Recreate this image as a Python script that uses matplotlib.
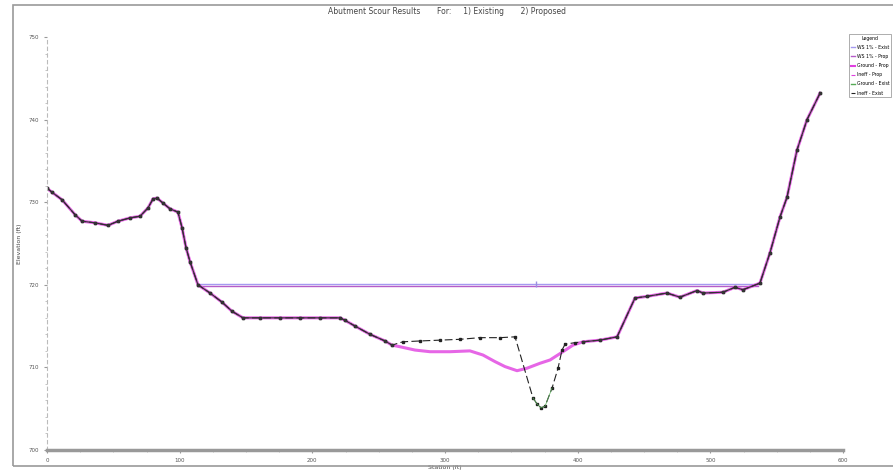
import matplotlib
matplotlib.use("Agg")
import matplotlib.pyplot as plt
from matplotlib.patches import Rectangle
from matplotlib.ticker import AutoMinorLocator
from matplotlib.lines import Line2D

# ground shared by both plans, left bank
left_sta = [0, 3.8, 11.3, 21.1, 26.4, 36.2, 46.0, 53.5, 62.6, 70.1, 76.1, 79.9, 82.9, 87.4,
            92.7, 98.7, 101.8, 104.8, 107.8, 113.8, 122.9, 131.9, 139.4, 147.7, 160.6,
            175.6, 190.7, 205.8, 220.9, 224.6, 232.2, 243.5, 254.8, 260.0]
left_elev = [731.7, 731.2, 730.3, 728.5, 727.7, 727.5, 727.2, 727.7, 728.1, 728.3, 729.3,
             730.4, 730.5, 729.9, 729.2, 728.8, 726.9, 724.5, 722.8, 720.0, 719.0, 717.9,
             716.8, 716.0, 716.0, 716.0, 716.0, 716.0, 716.0, 715.7, 715.0, 714.0, 713.2, 712.7]

# channel, existing (with scour hole)
exist_sta = [268.3, 281.2, 296.2, 311.3, 326.4, 341.5, 352.8, 366.3, 369.3, 372.4, 375.4,
             380.7, 385.2, 388.2, 390.5, 398.0]
exist_elev = [713.1, 713.2, 713.3, 713.4, 713.6, 713.6, 713.7, 706.3, 705.6, 705.1, 705.3,
              707.5, 709.9, 712.1, 712.8, 713.0]

# channel, proposed
prop_sta = [266.1, 277.4, 288.7, 303.8, 318.8, 328.6, 337.7, 345.2, 354.3, 361.8, 371.6,
            379.2, 388.9, 396.5]
prop_elev = [712.5, 712.1, 711.9, 711.9, 712.0, 711.5, 710.7, 710.1, 709.6, 709.9, 710.5,
             710.9, 711.9, 712.7]

# ground shared by both plans, right bank
right_sta = [404.0, 416.8, 429.7, 443.2, 452.3, 467.3, 477.1, 489.9, 494.5, 509.5, 518.6,
             524.6, 537.4, 545.0, 552.5, 557.8, 565.3, 572.9, 582.7]
right_elev = [713.1, 713.3, 713.7, 718.4, 718.6, 719.0, 718.5, 719.3, 719.0, 719.1, 719.7,
              719.4, 720.2, 723.9, 728.2, 730.6, 736.3, 740.0, 743.2]

ws_sta = [113.8, 535.9]
ws_exist = 720.15
ws_prop = 719.8

x_ticks = [0, 100, 200, 300, 400, 500, 600]
y_ticks = [700, 710, 720, 730, 740, 750]

fig = plt.figure(figsize=(8.93, 4.73), dpi=100)
ax = fig.add_axes([47 / 893, 1 - 450 / 473, 796 / 893, 413 / 473])

# outer window frame
fig.patches.append(Rectangle((13 / 893, 1 - 466 / 473), 1.0, 461 / 473, transform=fig.transFigure,
                             fill=False, edgecolor="#9a9a9a", lw=1.2))

ex_x = left_sta + exist_sta + right_sta
ex_y = left_elev + exist_elev + right_elev
pr_x = left_sta + prop_sta + right_sta
pr_y = left_elev + prop_elev + right_elev

ax.plot(ws_sta, [ws_exist, ws_exist], color="#a59af0", lw=1.0)
ax.plot(ws_sta, [ws_prop, ws_prop], color="#b65cc8", lw=1.0)
ax.plot([368.6], [ws_exist], marker="|", color="#9c8fe0", ms=4)

ax.plot(pr_x, pr_y, color="#e040e0", lw=2.2, alpha=0.8)
ax.plot(ex_x, ex_y, color="#222222", lw=0.8, ls=(0, (7, 3)), marker="s", ms=1.5)
ax.plot(exist_sta[7:12], exist_elev[7:12], color="#55aa55", lw=0.5)
ax.plot(left_sta, left_elev, color="#333333", lw=0.8, marker="s", ms=1.5)
ax.plot(right_sta, right_elev, color="#333333", lw=0.8, marker="s", ms=1.5)

ax.set_xlim(0, 600)
ax.set_ylim(700, 750)
ax.set_xticks(x_ticks)
ax.set_yticks(y_ticks)
ax.yaxis.set_minor_locator(AutoMinorLocator(5))
ax.xaxis.set_minor_locator(AutoMinorLocator(4))
ax.tick_params(labelsize=4, length=2, color="#999999", labelcolor="#555555")
ax.tick_params(which="minor", length=1.5, color="#bbbbbb")

for s in ["top", "right"]:
    ax.spines[s].set_visible(False)
ax.spines["left"].set_color("#bbbbbb")
ax.spines["left"].set_linestyle((0, (3, 3)))
ax.spines["left"].set_linewidth(0.8)
ax.spines["bottom"].set_color("#999999")
ax.spines["bottom"].set_linewidth(2.5)

ax.set_xlabel("Station (ft)", fontsize=4.5, color="#444444", labelpad=2)
ax.set_ylabel("Elevation (ft)", fontsize=4.5, color="#444444", labelpad=5)
fig.text(0.5, 1 - 11 / 473, "Abutment Scour Results       For:     1) Existing       2) Proposed",
         ha="center", va="center", fontsize=5.5, color="#444444")

handles = [Line2D([], [], color="#a59af0", lw=1),
           Line2D([], [], color="#b65cc8", lw=1),
           Line2D([], [], color="#e040e0", lw=1.5),
           Line2D([], [], color="#e040e0", lw=0.8, ls="--"),
           Line2D([], [], color="#55aa55", lw=1),
           Line2D([], [], color="#222222", lw=0.8, ls="--")]
labels = ["WS 1% - Exist", "WS 1% - Prop", "Ground - Prop",
          "Ineff - Prop", "Ground - Exist", "Ineff - Exist"]
leg = fig.legend(handles, labels, title="Legend", loc="upper right",
                 bbox_to_anchor=(891 / 893, 1 - 34 / 473), fontsize=3.3, title_fontsize=3.3,
                 frameon=True, fancybox=False, edgecolor="#888888", handlelength=1.0,
                 borderpad=0.4, labelspacing=0.9, handletextpad=0.3, borderaxespad=0)
leg.get_frame().set_linewidth(0.6)

fig.savefig("out.png", dpi=100)
